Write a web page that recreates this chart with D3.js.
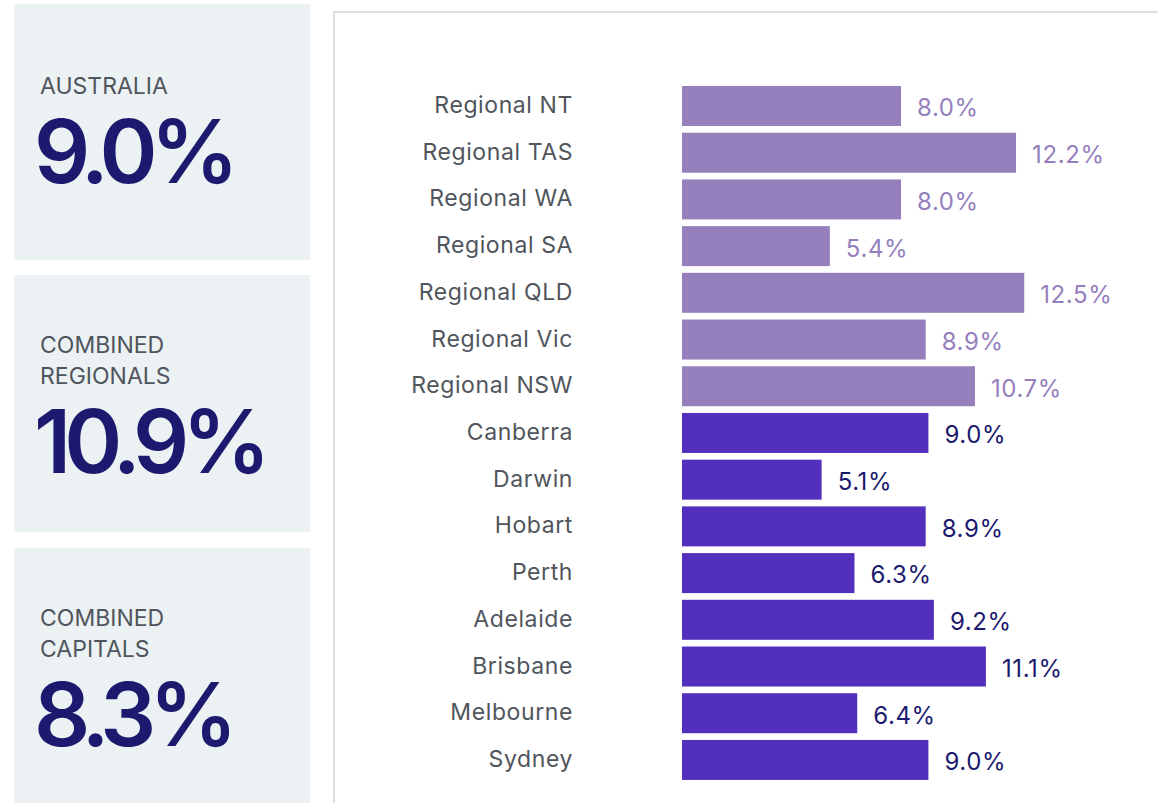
<!DOCTYPE html>
<html>
<head>
<meta charset="utf-8">
<script src="https://cdn.jsdelivr.net/npm/d3@7"></script>
<style>
  body { margin: 0; background: #fff; }
  svg text { font-family: "Inter", "Open Sans", sans-serif; }
  .cat { fill: #50555c; font-size: 23px; letter-spacing: 0.6px; }
  .kpi-label { fill: #50555c; font-size: 23px; }
  .kpi-value { fill: #1b1a6e; font-size: 88px; font-weight: 600; letter-spacing: -7px; }
  .val { font-size: 24px; letter-spacing: 0.6px; }
</style>
</head>
<body>
<div id="chart-area"></div>
<script>
// DATA
var regions = ["Regional NT", "Regional TAS", "Regional WA", "Regional SA", "Regional QLD", "Regional Vic", "Regional NSW",
               "Canberra", "Darwin", "Hobart", "Perth", "Adelaide", "Brisbane", "Melbourne", "Sydney"];
var growth = [8.0, 12.2, 8.0, 5.4, 12.5, 8.9, 10.7,
              9.0, 5.1, 8.9, 6.3, 9.2, 11.1, 6.4, 9.0];
var groups = ["regional", "regional", "regional", "regional", "regional", "regional", "regional",
              "capital", "capital", "capital", "capital", "capital", "capital", "capital", "capital"];

var kpiLabels = [["AUSTRALIA"], ["COMBINED", "REGIONALS"], ["COMBINED", "CAPITALS"]];
var kpiValues = [9.0, 10.9, 8.3];

var width = 1158, height = 803;

var svg = d3.select("#chart-area").append("svg")
    .attr("width", width)
    .attr("height", height);

// KPI PANELS (left)
var panelTop = [4, 275, 548],
    panelHeight = [256, 257, 260];

var panels = svg.selectAll(".panel")
    .data(kpiValues)
    .enter()
    .append("g")
    .attr("class", "panel")
    .attr("transform", function(d, i) { return "translate(14," + panelTop[i] + ")"; });

panels.append("rect")
    .attr("width", 296)
    .attr("height", function(d, i) { return panelHeight[i]; })
    .attr("fill", "#ecf1f4");

panels.each(function(d, i) {
    var g = d3.select(this);
    var lines = kpiLabels[i];
    var firstBase = lines.length === 1 ? 90 : 78;
    lines.forEach(function(line, j) {
        g.append("text")
            .attr("class", "kpi-label")
            .attr("x", 26)
            .attr("y", firstBase + j * 31)
            .text(line);
    });
    g.append("text")
        .attr("class", "kpi-value")
        .attr("x", 20)
        .attr("y", lines.length === 1 ? 179 : 198)
        .text(d3.format(".1f")(d) + "%");
});

// CHART PANEL border
svg.append("rect")
    .attr("x", 334)
    .attr("y", 12)
    .attr("width", 900)
    .attr("height", 900)
    .attr("fill", "none")
    .attr("stroke", "#dedede")
    .attr("stroke-width", 2);

//SCALES
var x = d3.scaleLinear()
    .domain([0, 10])
    .range([682, 682 + 273.8]);

var step = 46.71;
var y = d3.scaleBand()
    .domain(regions)
    .range([86 - step * 0.072, 86 - step * 0.072 + step * 15])
    .paddingInner(0.144)
    .paddingOuter(0.072);

var barColor = { regional: "#957fbd", capital: "#5230bd" };
var labelColor = { regional: "#957fbd", capital: "#1b1a6e" };

var rows = svg.selectAll(".row")
    .data(regions)
    .enter()
    .append("g")
    .attr("class", "row");

rows.append("rect")
    .attr("x", x(0))
    .attr("y", function(d) { return y(d); })
    .attr("width", function(d, i) { return x(growth[i]) - x(0); })
    .attr("height", y.bandwidth())
    .attr("fill", function(d, i) { return barColor[groups[i]]; });

rows.append("text")
    .attr("class", "cat")
    .attr("x", 573)
    .attr("y", function(d) { return y(d) + y.bandwidth() / 2 - 1; })
    .attr("dy", "0.35em")
    .style("text-anchor", "end")
    .text(function(d) { return d; });

rows.append("text")
    .attr("class", "val")
    .attr("x", function(d, i) { return x(growth[i]) + 16; })
    .attr("y", function(d) { return y(d) + y.bandwidth() / 2 + 2; })
    .attr("dy", "0.35em")
    .attr("fill", function(d, i) { return labelColor[groups[i]]; })
    .text(function(d, i) { return d3.format(".1f")(growth[i]) + "%"; });
</script>
</body>
</html>
